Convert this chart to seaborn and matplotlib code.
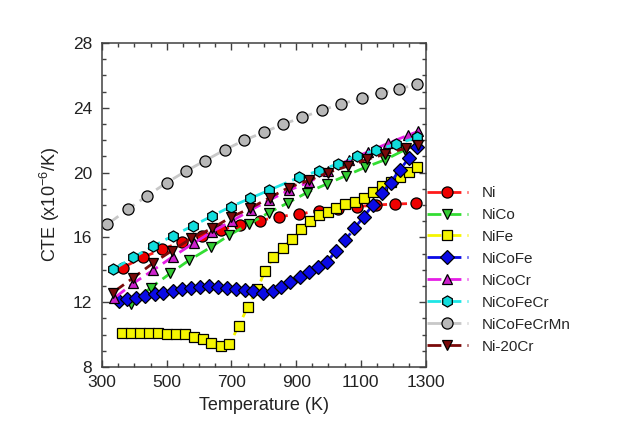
import numpy as np
import pandas as pd
import seaborn as sns
import matplotlib.pyplot as plt
from matplotlib.ticker import MultipleLocator

# values (temperature in K, CTE in 1e-6/K)
ni_T = [364, 426, 487, 547, 609, 667, 727, 787, 846, 908, 970, 1030, 1088, 1147, 1207, 1269]
ni_cte = [14.13, 14.77, 15.27, 15.74, 16.09, 16.46, 16.77, 17.03, 17.28, 17.43, 17.65, 17.78,
          17.9, 18.0, 18.06, 18.1]

nico_T = [390, 451, 511, 570, 636, 694, 755, 815, 875, 933, 995, 1055, 1114, 1176, 1235, 1275]
nico_cte = [11.9, 12.9, 13.78, 14.6, 15.39, 16.15, 16.83, 17.52, 18.14, 18.76, 19.3, 19.82,
            20.33, 20.8, 21.4, 21.75]

nife_T = [361, 389, 418, 445, 472, 500, 529, 556, 585, 612, 638, 667, 694, 722, 750, 779, 805,
          830, 858, 887, 915, 942, 971, 999, 1024, 1052, 1081, 1109, 1138, 1166, 1192, 1220,
          1248, 1274]
nife_cte = [10.08, 10.08, 10.08, 10.08, 10.08, 10.02, 10.02, 10.02, 9.87, 9.71, 9.5, 9.32, 9.4,
            10.53, 11.68, 12.8, 13.95, 14.77, 15.33, 15.9, 16.5, 17.03, 17.38, 17.59, 17.79,
            18.04, 18.2, 18.41, 18.82, 19.17, 19.44, 19.75, 20.06, 20.36]

nicofe_T = [354, 376, 405, 434, 463, 490, 519, 547, 575, 603, 632, 659, 686, 714, 741, 768, 797,
            827, 854, 882, 911, 939, 968, 996, 1023, 1052, 1080, 1109, 1137, 1164, 1192, 1220,
            1248, 1274]
nicofe_cte = [12.09, 12.17, 12.28, 12.36, 12.49, 12.59, 12.71, 12.79, 12.88, 12.94, 13.0, 12.94,
              12.88, 12.79, 12.73, 12.67, 12.55, 12.69, 12.96, 13.27, 13.58, 13.89, 14.19, 14.5,
              15.16, 15.84, 16.56, 17.28, 18.0, 18.72, 19.38, 20.16, 20.88, 21.56]

nicocr_T = [337, 397, 459, 519, 583, 640, 703, 760, 817, 877, 939, 1000, 1062, 1121, 1183, 1245, 1278]
nicocr_cte = [12.24, 13.17, 13.99, 14.81, 15.64, 16.35, 17.03, 17.69, 18.3, 18.9, 19.4, 20.1,
              20.78, 21.27, 21.8, 22.3, 22.55]

nicofecr_T = [335, 397, 459, 519, 581, 640, 698, 758, 817, 908, 970, 1030, 1088, 1148, 1210, 1274]
nicofecr_cte = [14.03, 14.77, 15.47, 16.1, 16.72, 17.32, 17.9, 18.41, 18.92, 19.7, 20.12, 20.55,
                21.04, 21.4, 21.77, 22.17]

nicofecrmn_T = [316, 381, 440, 500, 560, 619, 679, 740, 801, 859, 919, 980, 1040, 1102, 1161,
                1219, 1274]
nicofecrmn_cte = [16.8, 17.75, 18.57, 19.38, 20.1, 20.74, 21.4, 22.0, 22.5, 22.98, 23.41, 23.86,
                  24.24, 24.59, 24.93, 25.18, 25.45]

ni20cr_T = [333, 395, 457, 516, 576, 640, 698, 758, 818, 877, 940, 998, 1061, 1120, 1176, 1238, 1276]
ni20cr_cte = [12.59, 13.48, 14.4, 15.18, 15.94, 16.56, 17.24, 17.8, 18.45, 19.08, 19.52, 20.0,
              20.41, 20.82, 21.15, 21.5, 21.7]

labels = ['Ni', 'NiCo', 'NiFe', 'NiCoFe', 'NiCoCr', 'NiCoFeCr', 'NiCoFeCrMn', 'Ni-20Cr']
temps = [ni_T, nico_T, nife_T, nicofe_T, nicocr_T, nicofecr_T, nicofecrmn_T, ni20cr_T]
ctes = [ni_cte, nico_cte, nife_cte, nicofe_cte, nicocr_cte, nicofecr_cte, nicofecrmn_cte, ni20cr_cte]
x_ticks = [300, 500, 700, 900, 1100, 1300]
y_ticks = [8, 12, 16, 20, 24, 28]

line_colors = ['#ff1a1a', '#33dd33', '#f5f500', '#0a0ae6', '#e61ee6', '#1ee6e6', '#c8c8c8', '#7a0a0a']
face_colors = ['#ee0000', '#33cc33', '#f5f500', '#0a0ae6', '#cc22cc', '#11dddd', '#b8b8b8', '#7a0a0a']
markers = ['o', 'v', 's', 'D', '^', 'h', 'o', 'v']
msizes = [8, 7.5, 6.5, 7, 7.5, 8, 8, 7.5]

sns.set_style("ticks")
plt.rcParams['font.family'] = ['Liberation Sans', 'DejaVu Sans']
plt.rcParams['mathtext.default'] = 'regular'

fig = plt.figure(figsize=(6.35, 4.48), dpi=100)
ax = fig.add_axes([0.1606, 0.1808, 0.5096, 0.7232])

for T, c, lab, lc, fc, m, ms in zip(temps, ctes, labels, line_colors, face_colors, markers, msizes):
    df = pd.DataFrame({'T': T, 'CTE': c})
    sns.lineplot(data=df, x='T', y='CTE', ax=ax, label=lab, color=lc,
                 linestyle=(0, (5, 2.2)), linewidth=2.0,
                 marker=m, markersize=ms, markerfacecolor=fc,
                 markeredgecolor='black', markeredgewidth=0.9)

ax.set_xlim(300, 1300)
ax.set_ylim(8, 28)
ax.set_xticks(x_ticks)
ax.set_yticks(y_ticks)
ax.xaxis.set_minor_locator(MultipleLocator(50))
ax.yaxis.set_minor_locator(MultipleLocator(1))
ax.tick_params(which='both', direction='in', top=True, right=True, color='#404040',
               labelsize=12.5, labelcolor='#222222')
ax.tick_params(axis='y', which='major', pad=7)
ax.tick_params(axis='x', which='major', pad=6)
ax.tick_params(which='major', length=5, width=1.0)
ax.tick_params(which='minor', length=3, width=1.0)
for sp in ax.spines.values():
    sp.set_color('#404040')
    sp.set_linewidth(1.1)

ax.set_xlabel('Temperature (K)', fontsize=13, color='#222222', labelpad=5)
ax.set_ylabel('CTE (x10$^{-6}$/K)', fontsize=13, color='#222222', labelpad=8)

ax.legend(loc='upper left', bbox_to_anchor=(0.672, 0.585), bbox_transform=fig.transFigure,
          frameon=False, fontsize=11, handlelength=2.7, handletextpad=0.9,
          labelspacing=0.52, borderpad=0, borderaxespad=0)

fig.savefig('out.png', dpi=100)
